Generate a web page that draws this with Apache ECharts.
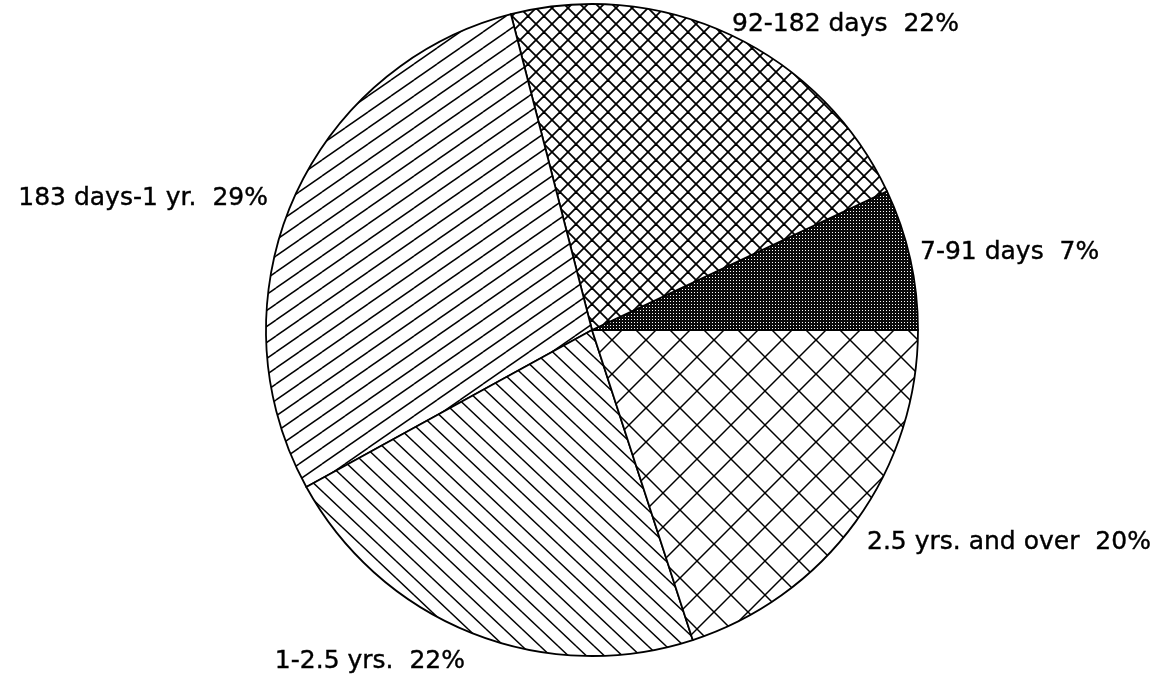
<!DOCTYPE html>
<html>
<head>
<meta charset="utf-8">
<style>
  html, body { margin: 0; padding: 0; background: #ffffff; }
  #chart { width: 1167px; height: 675px; }
</style>
<script src="https://cdn.jsdelivr.net/npm/echarts@6/dist/echarts.min.js"></script>
</head>
<body>
<div id="chart"></div>
<script>
// ---- data ----
const categories = ['7-91 days', '92-182 days', '183 days-1 yr.', '1-2.5 yrs.', '2.5 yrs. and over'];
const values = [7, 22, 29, 22, 20];

// ---- label placement (layout only) ----
const labelPlacement = [
  [920, 252, 'left'],
  [732, 24, 'left'],
  [268, 198, 'right'],
  [465, 661, 'right'],
  [867, 542, 'left']
];

// ---- pattern builders (style only) ----
function tile(w, h, draw) {
  const c = document.createElement('canvas');
  c.width = w; c.height = h;
  const ctx = c.getContext('2d');
  ctx.fillStyle = '#ffffff';
  ctx.fillRect(0, 0, w, h);
  draw(ctx, w, h);
  return c;
}
function lineCopies(ctx, w, h, x0, y0, x1, y1) {
  for (let i = -1; i <= 1; i++) {
    for (let j = -1; j <= 1; j++) {
      ctx.beginPath();
      ctx.moveTo(x0 + i * w, y0 + j * h);
      ctx.lineTo(x1 + i * w, y1 + j * h);
      ctx.stroke();
    }
  }
}
function stipple() {
  return tile(3, 3, function (ctx, w, h) {
    ctx.fillStyle = '#0a0a0a';
    ctx.fillRect(0, 0, w, h);
    ctx.fillStyle = '#ffffff';
    ctx.fillRect(1, 1, 1, 1);
  });
}
function crossHatch(s, lw) {
  return tile(s, s, function (ctx, w, h) {
    ctx.strokeStyle = '#000000';
    ctx.lineWidth = lw;
    lineCopies(ctx, w, h, 0, 0, w, h);
    lineCopies(ctx, w, h, 0, h, w, 0);
  });
}
function slash(w, h, lw) {
  return tile(w, h, function (ctx) {
    ctx.strokeStyle = '#000000';
    ctx.lineWidth = lw;
    lineCopies(ctx, w, h, 0, h, w, 0);
  });
}
function backslash(w, h, lw) {
  return tile(w, h, function (ctx) {
    ctx.strokeStyle = '#000000';
    ctx.lineWidth = lw;
    lineCopies(ctx, w, h, 0, 0, w, h);
  });
}

const fills = [
  { image: stipple(), repeat: 'repeat' },
  { image: crossHatch(16, 1.8), repeat: 'repeat' },
  { image: slash(23, 16, 1.5), repeat: 'repeat' },
  { image: backslash(18, 17, 1.5), repeat: 'repeat' },
  { image: crossHatch(34, 1.5), repeat: 'repeat' }
];

const chart = echarts.init(document.getElementById('chart'), null, { renderer: 'canvas' });

const seriesData = categories.map(function (name, i) {
  return { name: name, value: values[i], itemStyle: { color: fills[i] } };
});

chart.setOption({
  backgroundColor: '#ffffff',
  animation: false,
  series: [{
    type: 'pie',
    center: [592, 330],
    radius: 326,
    startAngle: 0,
    clockwise: false,
    avoidLabelOverlap: false,
    emphasis: { disabled: true },
    itemStyle: { borderColor: '#000000', borderWidth: 1.8 },
    label: {
      show: true,
      position: 'outside',
      formatter: function (p) { return p.name + '  ' + p.value + '%'; },
      fontFamily: 'DejaVu Sans',
      fontSize: 25,
      color: '#000000',
      textBorderColor: '#000000',
      textBorderWidth: 0.4
    },
    labelLine: { show: false },
    labelLayout: function (params) {
      const p = labelPlacement[params.dataIndex];
      return { x: p[0], y: p[1], align: p[2], verticalAlign: 'middle', hideOverlap: false };
    },
    data: seriesData
  }]
});
</script>
</body>
</html>
